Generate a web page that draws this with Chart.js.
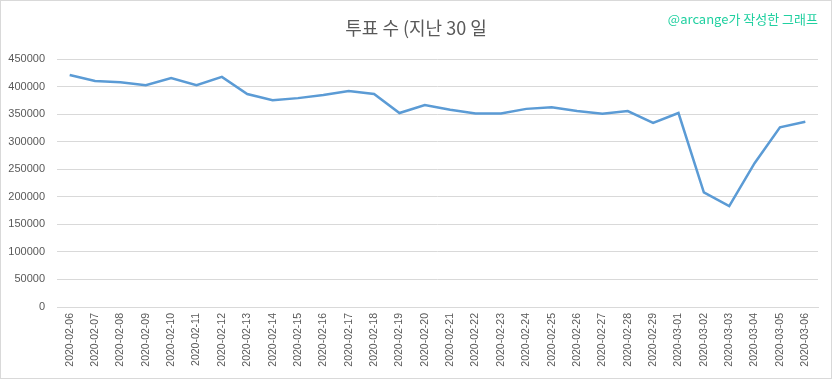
<!DOCTYPE html>
<html><head><meta charset="utf-8">
<script src="https://cdn.jsdelivr.net/npm/chart.js@4/dist/chart.umd.min.js"></script>
<style>html,body{margin:0;padding:0;background:#fff;}#wrap{width:832px;height:379px;position:relative;}</style>
</head><body><div id="wrap"><canvas id="c" width="832" height="379"></canvas></div>
<script>
const chartTitle = "투표 수 (지난 30 일";
const watermark = "@arcange가 작성한 그래프";
const dates = ["2020-02-06","2020-02-07","2020-02-08","2020-02-09","2020-02-10","2020-02-11","2020-02-12","2020-02-13","2020-02-14","2020-02-15","2020-02-16","2020-02-17","2020-02-18","2020-02-19","2020-02-20","2020-02-21","2020-02-22","2020-02-23","2020-02-24","2020-02-25","2020-02-26","2020-02-27","2020-02-28","2020-02-29","2020-03-01","2020-03-02","2020-03-03","2020-03-04","2020-03-05","2020-03-06"];
const votes = [421000,410000,408000,402500,415500,402500,417500,386500,375000,379000,384500,392000,386500,352000,366500,358000,351000,351000,359500,362500,355500,350500,355500,334000,352000,208000,183000,261000,326000,336000];

const deco = {
  id:'deco',
  beforeDraw(chart){
    const ctx = chart.ctx;
    ctx.save();
    ctx.fillStyle='#fff';
    ctx.fillRect(0,0,chart.width,chart.height);
    ctx.restore();
  },
  afterDraw(chart){
    const ctx = chart.ctx;
    ctx.save();
    ctx.strokeStyle='#d9d9d9';
    ctx.lineWidth=1;
    ctx.strokeRect(0.5,0.5,chart.width-1,chart.height-1);
    ctx.fillStyle='#595959';
    ctx.font='18px "Noto Sans CJK KR", "Noto Sans", sans-serif';
    ctx.textAlign='center';
    ctx.textBaseline='middle';
    ctx.fillText(chartTitle,416,28);
    ctx.fillStyle='#20d0a0';
    ctx.font='13px "Noto Sans CJK KR", "DejaVu Sans", sans-serif';
    ctx.textAlign='right';
    ctx.fillText(watermark,818,19);
    ctx.restore();
  }
};

new Chart(document.getElementById('c'),{
  type:'line',
  data:{labels:dates,datasets:[{data:votes,borderColor:'#5b9bd5',borderWidth:2.5,pointRadius:0,tension:0,fill:false}]},
  options:{
    responsive:false,animation:false,
    layout:{padding:{top:59,right:14,bottom:0,left:0}},
    plugins:{legend:{display:false},title:{display:false},tooltip:{enabled:false}},
    scales:{
      x:{
        offset:true,
        grid:{display:false,drawTicks:false},
        border:{display:true,color:'#d9d9d9'},
        ticks:{minRotation:90,maxRotation:90,autoSkip:false,color:'#595959',padding:6,font:{family:'"Liberation Sans", "DejaVu Sans", sans-serif',size:10.5}},
        afterFit(s){s.height=72;}
      },
      y:{
        min:0,max:450000,
        grid:{color:'#d9d9d9',drawTicks:false},
        border:{display:false},
        ticks:{stepSize:50000,color:'#595959',padding:12,callback:(v)=>String(v),font:{family:'"Liberation Sans", "DejaVu Sans", sans-serif',size:11}},
        afterFit(s){s.width=57;}
      }
    }
  },
  plugins:[deco]
});
</script></body></html>
